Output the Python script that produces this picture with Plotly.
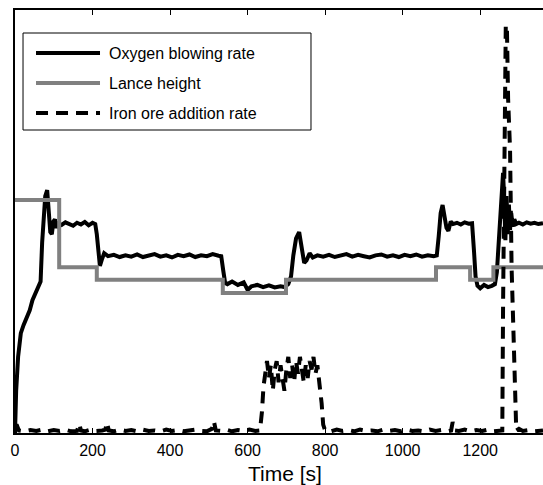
import plotly.graph_objects as go

# Normalised process signals of a converter blow (time in seconds)
oxygen_points = [
    (0, 0.0), (3, 0.10), (8, 0.18), (15, 0.236), (22, 0.255), (30, 0.27), (38, 0.29),
    (45, 0.314), (55, 0.335), (66, 0.358), (70, 0.45), (74, 0.53), (78, 0.56), (83, 0.574),
    (87, 0.53), (91, 0.475), (95, 0.47), (99, 0.50), (103, 0.505), (107, 0.485), (112, 0.495),
    (120, 0.492), (130, 0.498), (140, 0.494), (150, 0.490), (160, 0.497), (170, 0.493),
    (180, 0.499), (190, 0.491), (200, 0.497), (207, 0.494), (211, 0.47), (215, 0.42),
    (219, 0.395), (224, 0.41), (230, 0.425), (240, 0.418), (255, 0.421), (270, 0.416),
    (285, 0.420), (300, 0.417), (315, 0.422), (330, 0.416), (345, 0.419), (360, 0.423),
    (375, 0.417), (390, 0.420), (405, 0.415), (420, 0.421), (435, 0.418), (450, 0.422),
    (465, 0.416), (480, 0.420), (495, 0.418), (510, 0.423), (525, 0.419), (532, 0.418),
    (537, 0.385), (542, 0.355), (548, 0.352), (560, 0.358), (575, 0.350), (590, 0.356),
    (600, 0.338), (610, 0.347), (625, 0.350), (640, 0.345), (655, 0.349), (670, 0.344),
    (685, 0.347), (695, 0.345), (705, 0.352), (712, 0.37), (718, 0.42), (725, 0.46),
    (733, 0.475), (740, 0.44), (746, 0.402), (752, 0.408), (760, 0.425), (768, 0.415),
    (780, 0.420), (795, 0.417), (810, 0.421), (825, 0.416), (840, 0.420), (855, 0.423),
    (870, 0.417), (885, 0.421), (900, 0.418), (915, 0.415), (930, 0.420), (945, 0.422),
    (960, 0.417), (975, 0.420), (990, 0.416), (1005, 0.421), (1020, 0.418), (1035, 0.422),
    (1050, 0.417), (1065, 0.420), (1080, 0.418), (1088, 0.420), (1093, 0.465), (1098, 0.52),
    (1103, 0.539), (1108, 0.51), (1113, 0.485), (1118, 0.478), (1124, 0.50), (1130, 0.494),
    (1140, 0.497), (1150, 0.493), (1160, 0.498), (1170, 0.495), (1179, 0.496), (1184, 0.43),
    (1188, 0.37), (1193, 0.348), (1200, 0.342), (1210, 0.350), (1220, 0.345), (1230, 0.348),
    (1238, 0.352), (1243, 0.38), (1248, 0.46), (1253, 0.56), (1256, 0.60), (1259, 0.615),
    (1262, 0.55), (1265, 0.456), (1268, 0.56), (1271, 0.47), (1274, 0.54), (1277, 0.48),
    (1280, 0.52), (1284, 0.488), (1288, 0.505), (1293, 0.494), (1300, 0.497), (1310, 0.493),
    (1320, 0.498), (1330, 0.495), (1340, 0.497), (1350, 0.494), (1362, 0.496),
]

# Lance height set-points (held until the next change)
lance_times = [0, 114, 211, 536, 699, 1086, 1174, 1234, 1362]
lance_levels = [0.551, 0.392, 0.362, 0.331, 0.362, 0.392, 0.362, 0.392, 0.392]

iron_ore_points = [
    (0, 0.012), (4, 0.02), (10, 0.006), (25, 0.004), (40, 0.007), (55, 0.005), (70, 0.008),
    (85, 0.004), (100, 0.007), (115, 0.005), (130, 0.008), (145, 0.004), (160, 0.005),
    (166, 0.022), (170, 0.006), (180, 0.004), (195, 0.008), (210, 0.005), (225, 0.006),
    (233, 0.008), (237, 0.025), (242, 0.006), (255, 0.004), (270, 0.008), (285, 0.005),
    (300, 0.007), (315, 0.004), (330, 0.008), (345, 0.005), (360, 0.006), (375, 0.004),
    (390, 0.008), (405, 0.005), (420, 0.007), (435, 0.004), (450, 0.006), (465, 0.008),
    (480, 0.005), (495, 0.004), (508, 0.010), (513, 0.028), (518, 0.006), (530, 0.005),
    (545, 0.008), (560, 0.004), (575, 0.007), (590, 0.005), (605, 0.008), (620, 0.005),
    (632, 0.006), (637, 0.05), (641, 0.11), (645, 0.14), (650, 0.17), (655, 0.13),
    (660, 0.16), (665, 0.10), (670, 0.15), (675, 0.17), (680, 0.12), (685, 0.16),
    (690, 0.13), (695, 0.10), (700, 0.15), (705, 0.18), (710, 0.13), (715, 0.16),
    (720, 0.12), (725, 0.17), (730, 0.14), (735, 0.18), (740, 0.15), (745, 0.12),
    (750, 0.16), (755, 0.13), (760, 0.17), (765, 0.15), (770, 0.18), (775, 0.14),
    (780, 0.16), (786, 0.12), (791, 0.07), (795, 0.02), (800, 0.006), (815, 0.004),
    (830, 0.008), (845, 0.005), (860, 0.007), (875, 0.004), (890, 0.008), (905, 0.005),
    (920, 0.006), (935, 0.004), (950, 0.008), (965, 0.005), (980, 0.007), (995, 0.004),
    (1010, 0.008), (1025, 0.005), (1040, 0.006), (1055, 0.004), (1070, 0.008), (1085, 0.005),
    (1100, 0.007), (1115, 0.004), (1125, 0.006), (1129, 0.026), (1134, 0.006), (1145, 0.005),
    (1160, 0.008), (1175, 0.004), (1190, 0.007), (1205, 0.005), (1220, 0.008), (1235, 0.004),
    (1250, 0.006), (1257, 0.006), (1259, 0.30), (1263, 0.70), (1266, 0.965), (1269, 0.955),
    (1272, 0.79), (1277, 0.67), (1281, 0.39), (1287, 0.20), (1293, 0.006), (1300, 0.010),
    (1310, 0.005), (1325, 0.007), (1340, 0.004), (1362, 0.006),
]

x_ticks = [0, 200, 400, 600, 800, 1000, 1200]
x_title = "Time [s]"
legend_labels = ["Oxygen blowing rate", "Lance height", "Iron ore addition rate"]

FONT = "Liberation Sans, Arial, sans-serif"
GRAY = "#808080"
DASH = "12px,8px"

ox_t, ox_y = zip(*oxygen_points)
ir_t, ir_y = zip(*iron_ore_points)

fig = go.Figure()
fig.add_trace(go.Scatter(x=ox_t, y=ox_y, mode="lines", name=legend_labels[0],
                         line=dict(color="black", width=4)))
fig.add_trace(go.Scatter(x=lance_times, y=lance_levels, mode="lines", name=legend_labels[1],
                         line=dict(color=GRAY, width=4, shape="hv")))
fig.add_trace(go.Scatter(x=ir_t, y=ir_y, mode="lines", name=legend_labels[2],
                         line=dict(color="black", width=4, dash=DASH)))

# Boxed legend with long line samples
L_X0, L_X1 = 0.0152, 0.5606
L_Y0, L_Y1 = 0.7163, 0.9456
sample_x0, sample_x1, text_x = 0.0398, 0.1610, 0.1742
rows_y = [0.8983, 0.8274, 0.7565]
styles = [dict(color="black", width=4), dict(color=GRAY, width=4),
          dict(color="black", width=4, dash=DASH)]

shapes = [dict(type="rect", xref="paper", yref="paper", x0=L_X0, x1=L_X1, y0=L_Y0, y1=L_Y1,
               line=dict(color="black", width=1), fillcolor="white", layer="above")]
annotations = []
for label, ry, st in zip(legend_labels, rows_y, styles):
    shapes.append(dict(type="line", xref="paper", yref="paper", x0=sample_x0, x1=sample_x1,
                       y0=ry, y1=ry, line=st, layer="above"))
    annotations.append(dict(text=label, xref="paper", yref="paper", x=text_x, y=ry,
                            xanchor="left", yanchor="middle", showarrow=False,
                            font=dict(family=FONT, size=16, color="black")))

annotations.append(dict(text=x_title, xref="paper", yref="paper", x=0.5114, y=-0.0946,
                        xanchor="center", yanchor="middle", showarrow=False,
                        font=dict(family=FONT, size=21, color="black")))

fig.update_layout(
    width=543, height=485,
    margin=dict(l=15, r=0, t=10, b=52),
    paper_bgcolor="white", plot_bgcolor="white",
    showlegend=False,
    shapes=shapes, annotations=annotations,
    font=dict(family=FONT, size=16, color="black"),
    xaxis=dict(range=[0, 1362], tickvals=x_ticks, ticks="inside", ticklen=5, tickwidth=1,
               tickcolor="black", showline=True, linecolor="black", linewidth=1.5,
               mirror="ticks", showgrid=False, zeroline=False, ticklabelstandoff=2,
               tickfont=dict(family=FONT, size=16, color="black")),
    yaxis=dict(range=[0, 1], showticklabels=False, ticks="", showline=True,
               linecolor="black", linewidth=1.5, mirror=False, showgrid=False,
               zeroline=False),
)

fig.write_html("out.html")
